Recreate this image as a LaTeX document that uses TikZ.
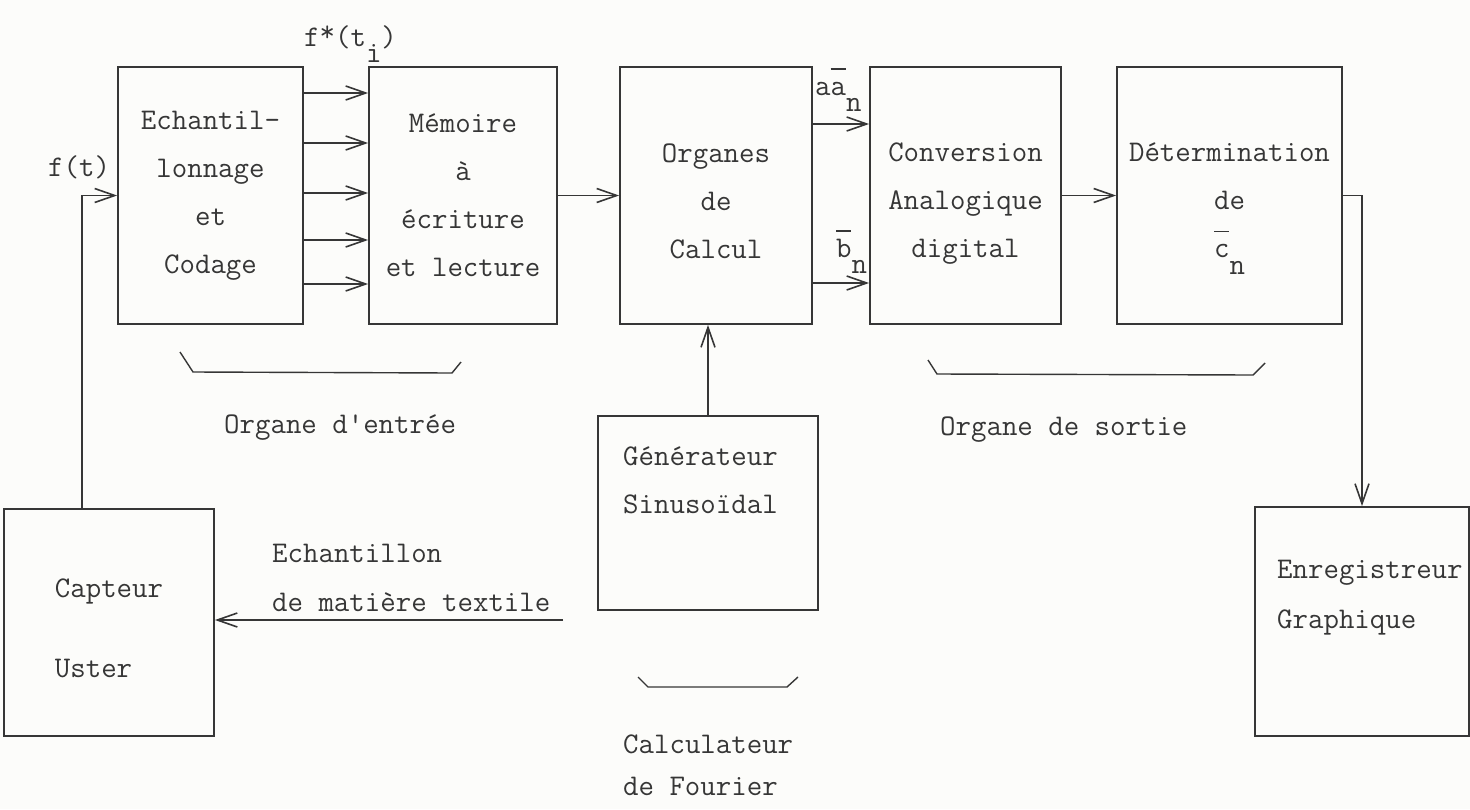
\documentclass[tikz,border=0pt]{standalone}
\usepackage{fontspec}
\usepackage{tikz}
\usetikzlibrary{arrows.meta,positioning,calc}
\definecolor{Ink}{HTML}{363636}
\definecolor{Paper}{HTML}{FCFCFA}
\newcommand\frappe{\ttfamily\fontsize{30}{48}\selectfont}
\newcommand\barre[1]{\leavevmode\rlap{\raisebox{0.85em}{\rule{0.5em}{1.2pt}}}#1}
\newcommand\dessous[1]{\raisebox{-0.55em}{#1}}
\newcommand\dessus[1]{\raisebox{0.15em}{#1}}
\newcommand\cale[1]{\rule{0pt}{#1}}

\begin{document}
\begin{tikzpicture}[x=1pt,y=-1pt,>={Straight Barb[length=20pt,width=14pt]},
  bloc/.style={draw=Ink,line width=1.8pt,inner sep=0pt,minimum height=257pt,align=center,font=\frappe,text=Ink},
  mot/.style={font=\frappe,text=Ink,inner sep=0pt,anchor=base west},
  fil/.style={->,draw=Ink,line width=1.6pt},
  accol/.style={draw=Ink,line width=1.4pt}]
  \fill[Paper] (0,0) rectangle (1470,809);
  \useasboundingbox (0,0) rectangle (1470,809);
  % chaine principale
  \node[bloc,minimum width=185pt] (ech) at (210.5,195.5) {Echantil-\\lonnage\\et\\Codage};
  \node[bloc,minimum width=188pt] (mem) at (463,195.5) {Mémoire\\à\\écriture\\et lecture};
  \node[bloc,minimum width=192pt] (org) at (716,195.5) {\cale{30pt}Organes\\de\\Calcul};
  \node[bloc,minimum width=191pt] (conv) at (965.5,195.5) {\cale{34pt}Conversion\\Analogique\\digital};
  \node[bloc,minimum width=225pt] (det) at (1229.5,195.5) {\cale{45pt}Détermination\\de\\\barre{c}\dessous{n}};
  % blocs du bas
  \node[bloc,minimum width=210pt,minimum height=227pt,align=left] (cap) at (109,622.5) {\cale{30pt}Capteur\\[32pt]Uster};
  \node[bloc,minimum width=220pt,minimum height=194pt] (gen) at (708,513) {};
  \node[mot] (gen1) at (623,465) {Générateur};
  \node[mot] (gen2) at (623,513) {Sinusoïdal};
  \node[bloc,minimum width=214pt,minimum height=229pt] (enr) at (1362,621.5) {};
  \node[mot] (enr1) at (1277,578) {Enregistreur};
  \node[mot] (enr2) at (1277,628) {Graphique};
  % signaux
  \node[mot] (ft) at (48,176) {f(t)};
  \node[mot] (fti) at (304,46) {f\dessus{*}(t\dessous{i})};
  \node[mot] (an) at (815,95) {a\barre{a}\dessous{n}};
  \node[mot] (bn) at (836,257) {\barre{b}\dessous{n}};
  \draw[fil] ([xshift=-27pt]cap.north) |- (ech.west);
  \foreach \y in {93,143,193,240,284}
    \draw[fil] (ech.east |- 0,\y) -- (mem.west |- 0,\y);
  \draw[fil] (mem.east) -- (org.west);
  \draw[fil] (org.east |- 0,124) -- (conv.west |- 0,124);
  \draw[fil] (org.east |- 0,283) -- (conv.west |- 0,283);
  \draw[fil] (conv.east) -- (det.west);
  \draw[fil] (det.east) -| (enr.north);
  \draw[fil] (gen.north) -- (gen.north |- org.south);
  \coordinate (textile) at (563,620);
  \draw[fil] (textile) -- (textile -| cap.east);
  \node[mot] (ech1) at (272,562) {Echantillon};
  \node[mot] (ech2) at (272,611) {de matière textile};
  % regroupements
  \draw[accol] (180,352) -- (193,372) -- (452,373) -- (461,362);
  \draw[accol] (928,360) -- (937,374) -- (1253,375) -- (1265,363);
  \draw[accol] (638,677) -- (648,687) -- (787,687) -- (798,677);
  \node[mot] (entree) at (224,433) {Organe d'entrée};
  \node[mot] (sortie) at (940,435) {Organe de sortie};
  \node[mot] (calc1) at (623,753) {Calculateur};
  \node[mot] (calc2) at (623,795) {de Fourier};
\end{tikzpicture}
\end{document}
